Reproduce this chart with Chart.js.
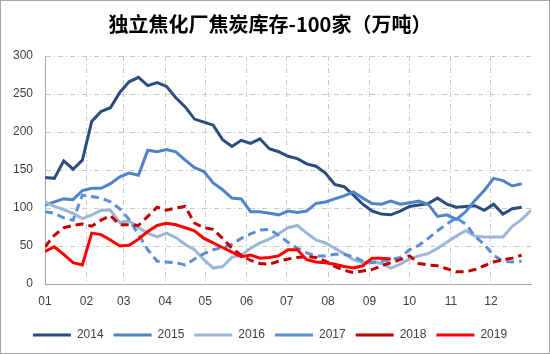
<!DOCTYPE html>
<html>
<head>
<meta charset="utf-8">
<script src="https://cdn.jsdelivr.net/npm/chart.js@4.4.1/dist/chart.umd.min.js"></script>
<style>
  body { margin: 0; background: #fff; }
  #wrap { width: 548px; height: 352px; border: 1px solid #a6a6a6; }
</style>
</head>
<body>
<div id="wrap"><canvas id="myChart" width="548" height="352"></canvas></div>
<script>
const monthLabels = ["01", "02", "03", "04", "05", "06", "07", "08", "09", "10", "11", "12"];
const monthStarts = [0, 31, 59, 90, 120, 151, 181, 212, 243, 273, 304, 334];
const years = ["2014", "2015", "2016", "2017", "2018", "2019"];

// weekly stock, 10k tons
const s2014 = [140, 139, 162, 151, 163, 214, 227, 232, 252, 266, 272, 261, 265, 260, 245, 233, 217, 213, 209, 190, 181, 189, 185, 191, 178, 174, 168, 165, 158, 155, 146, 131, 128, 117, 105, 96, 92, 91, 96, 102, 104, 106, 113, 105, 101, 102, 103, 97, 105, 92, 99, 101];
const s2015 = [104, 108, 112, 111, 123, 126, 126, 132, 141, 146, 143, 176, 174, 177, 174, 163, 153, 148, 133, 124, 113, 112, 95, 95, 93, 91, 96, 94, 96, 106, 108, 112, 116, 121, 113, 106, 105, 109, 105, 107, 109, 105, 89, 91, 85, 95, 110, 123, 139, 136, 129, 132];
const s2016 = [108, 102, 98, 93, 86, 91, 97, 97, 81, 83, 74, 67, 62, 67, 61, 52, 45, 32, 21, 23, 35, 38, 47, 54, 59, 66, 74, 77, 67, 58, 54, 47, 40, 32, 28, 30, 27, 21, 26, 33, 37, 40, 47, 55, 63, 70, 63, 62, 62, 62, 76, 85, 97];
const s2017 = [95, 93, 87, 84, 117, 115, 113, 108, 99, 85, 65, 45, 30, 29, 28, 25, 33, 40, 45, 48, 52, 60, 66, 71, 72, 64, 55, 47, 41, 37, 37, 39, 39, 36, 30, 28, 30, 32, 35, 45, 51, 60, 70, 79, 87, 79, 63, 52, 38, 30, 29, 30];
const s2018 = [49, 64, 74, 77, 79, 76, 84, 90, 78, 78, 77, 89, 101, 97, 100, 102, 80, 74, 72, 60, 47, 38, 31, 27, 26, 30, 33, 35, 36, 35, 30, 23, 18, 15, 17, 19, 24, 28, 32, 37, 27, 25, 24, 20, 16, 16, 19, 24, 29, 32, 34, 38];
const s2019 = [43, 49, 39, 28, 25, 67, 65, 58, 50, 51, 59, 69, 77, 80, 78, 74, 70, 60, 54, 48, 42, 36, 38, 34, 35, 37, 45, 45, 32, 29, 28, 26, 23, 21, 24, 34, 34, 33];

const seriesValues = [s2014, s2015, s2016, s2017, s2018, s2019];
const colors = ["#2a4d7e", "#4f84c8", "#9cb6d8", "#5b8fd2", "#c00000", "#ff0000"];
const dashes = [[], [], [], [8, 5], [8, 5], []];

function toPoints(arr) {
  return arr.map((v, i) => ({ x: i * 7, y: v }));
}

const bg = {
  id: "bg",
  beforeDraw(chart) {
    const c = chart.ctx;
    c.save();
    c.fillStyle = "#fff";
    c.fillRect(0, 0, chart.width, chart.height);
    c.restore();
  },
};

const gridDash = [5, 3, 1, 3];

const ctx = document.getElementById("myChart").getContext("2d");
const myChart = new Chart(ctx, {
  type: "line",
  data: {
    datasets: years.map((y, k) => ({
      label: y,
      data: toPoints(seriesValues[k]),
      borderColor: colors[k],
      backgroundColor: colors[k],
      borderWidth: 3,
      borderDash: dashes[k],
      pointRadius: 0,
      pointStyle: "line",
      tension: 0,
      fill: false,
      order: 6 - k,
    })),
  },
  options: {
    responsive: false,
    animation: false,
    layout: { padding: { left: 8, right: 18, top: 0, bottom: 2 } },
    plugins: {
      title: {
        display: true,
        text: "独立焦化厂焦炭库存-100家（万吨）",
        color: "#000",
        font: { family: "Noto Sans CJK SC", size: 20, weight: "bold" },
        padding: { top: 11, bottom: 20 },
      },
      legend: {
        position: "bottom",
        labels: {
          usePointStyle: true,
          pointStyleWidth: 38,
          boxWidth: 38,
          color: "#404040",
          padding: 10,
          font: { family: "Liberation Sans", size: 12 },
          sort: (a, b) => a.datasetIndex - b.datasetIndex,
        },
      },
      tooltip: { enabled: false },
    },
    scales: {
      x: {
        type: "linear",
        min: 0,
        max: 364,
        afterBuildTicks: (scale) => {
          scale.ticks = monthStarts.map((d) => ({ value: d }));
        },
        afterFit: (scale) => {
          scale.height = 35;
        },
        ticks: {
          autoSkip: false,
          maxRotation: 0,
          color: "#404040",
          padding: 10,
          font: { family: "Liberation Sans", size: 12 },
          callback: (v) => monthLabels[monthStarts.indexOf(v)],
        },
        grid: { color: "#c8c8c8", drawTicks: false, tickLength: 0 },
        border: { display: true, color: "#a6a6a6", dash: gridDash },
      },
      y: {
        min: 0,
        max: 300,
        afterFit: (scale) => {
          scale.width = 36;
        },
        ticks: {
          stepSize: 50,
          color: "#404040",
          padding: 12,
          font: { family: "Liberation Sans", size: 12 },
        },
        grid: { color: "#c8c8c8", drawTicks: false, tickLength: 0 },
        border: { display: true, color: "#a6a6a6", dash: gridDash },
      },
    },
  },
  plugins: [bg],
});
</script>
</body>
</html>
